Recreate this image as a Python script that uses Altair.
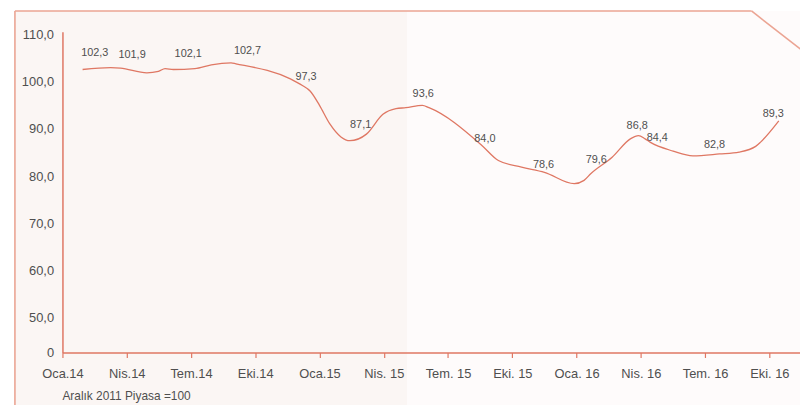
import json
import altair as alt
import pandas as pd

# ---- data -------------------------------------------------------------
# month index: 0 = Oca.14 (January 2014)
line_month = [0.94, 2.25, 2.71, 3.94, 4.48, 4.79, 5.18, 6.18, 6.95, 7.87, 8.10,
              10.64, 11.20, 11.57, 12.00, 12.49, 13.00, 13.42, 14.19,
              14.96, 15.57, 16.03, 16.80, 17.11, 19.58, 20.35, 21.43, 22.50,
              23.89, 24.35, 24.66, 25.66, 26.51, 26.89, 27.20, 27.43,
              28.51, 29.43, 30.67, 31.59, 32.36, 32.59, 33.44]
line_value = [102.6, 103.0, 102.9, 101.9, 102.2, 102.8, 102.6, 102.8, 103.6,
              104.0, 103.8, 100.6, 99.2, 98.0, 95.0, 91.0, 88.3, 87.5,
              88.9, 93.1, 94.3, 94.5, 95.0, 94.5, 86.5, 83.3, 81.9, 80.8,
              78.4, 79.1, 80.5, 84.0, 87.9, 88.6, 87.9, 87.2, 85.3, 84.3, 84.7,
              85.1, 86.3, 87.2, 91.7]

label_month = [1.51, 3.25, 5.87, 8.64, 11.37, 13.92, 16.84, 19.72, 22.46,
               24.92, 26.83, 27.77, 30.44, 33.18]
label_value = [102.3, 101.9, 102.1, 102.7, 97.3, 87.1, 93.6, 84.0, 78.6,
               79.6, 86.8, 84.4, 82.8, 89.3]

tick_labels = ["Oca.14", "Nis.14", "Tem.14", "Eki.14", "Oca.15", "Nis. 15",
               "Tem. 15", "Eki. 15", "Oca. 16", "Nis. 16", "Tem. 16", "Eki. 16"]
y_ticks = [42.6, 50, 60, 70, 80, 90, 100, 110]
note = "Aralık 2011 Piyasa =100"

# ---- styling ----------------------------------------------------------
FONT = "Liberation Sans Narrow, Liberation Sans, Arial, sans-serif"
RED = "#df7763"
FRAME = "#eba493"
TEXT = "#4f4f4f"

line_df = pd.DataFrame({"m": line_month, "v": line_value})
lab_df = pd.DataFrame({
    "m": label_month,
    "v": label_value,
    "t": [f"{v:.1f}".replace(".", ",") for v in label_value],
})
one = pd.DataFrame({"a": [0]})

x_scale = alt.Scale(domain=[0, 34.43], nice=False, zero=False)
y_scale = alt.Scale(domain=[42.6, 110.6], nice=False, zero=False)

x_expr = "%s[round(datum.value / 3)]" % json.dumps(tick_labels)
y_expr = "datum.value < 45 ? '0' : replace(format(datum.value, '.1f'), '.', ',')"

# backgrounds (decorative panel shading)
bg_left = alt.Chart(one).mark_rect(color="#fbf6f4").encode(
    x=alt.value(-48), x2=alt.value(348), y=alt.value(-21), y2=alt.value(400))
bg_right = alt.Chart(one).mark_rect(color="#fefbfb").encode(
    x=alt.value(348), x2=alt.value(745), y=alt.value(-21), y2=alt.value(400))

frame_left = alt.Chart(one).mark_rule(color=FRAME, strokeWidth=1.6).encode(
    x=alt.value(-48), y=alt.value(-21), y2=alt.value(400))
frame_top = alt.Chart(one).mark_rule(color=FRAME, strokeWidth=1.6).encode(
    x=alt.value(-48), x2=alt.value(696), y=alt.value(-21))
frame_diag = alt.Chart(one).mark_rule(color=FRAME, strokeWidth=1.6).encode(
    x=alt.value(696), x2=alt.value(746), y=alt.value(-21), y2=alt.value(18))

line = alt.Chart(line_df).mark_line(
    color=RED, strokeWidth=1.3, interpolate="monotone"
).encode(
    x=alt.X("m:Q", scale=x_scale, axis=alt.Axis(
        values=list(range(0, 34, 3)), labelExpr=x_expr, title=None,
        grid=False, domainColor=RED, domainWidth=1.5, tickColor=RED,
        tickSize=5, tickWidth=1.2, labelPadding=10, labelFontSize=13,
        labelFont=FONT, labelColor=TEXT, labelFlush=False, zindex=2)),
    y=alt.Y("v:Q", scale=y_scale, axis=alt.Axis(
        values=y_ticks, labelExpr=y_expr, title=None, grid=False,
        domainColor=RED, domainWidth=1.5, ticks=False, labelPadding=9,
        labelFontSize=13, labelFont=FONT, labelColor=TEXT,
        labelBaseline="middle", zindex=2)),
)

labels = alt.Chart(lab_df).mark_text(
    font=FONT, fontSize=11, color=TEXT, dy=-18, baseline="middle"
).encode(
    x=alt.X("m:Q", scale=x_scale),
    y=alt.Y("v:Q", scale=y_scale),
    text="t:N",
)

note_text = alt.Chart(pd.DataFrame({"t": [note]})).mark_text(
    font=FONT, fontSize=12, color=TEXT, align="left", baseline="middle"
).encode(x=alt.value(0), y=alt.value(368), text="t:N")

chart = alt.layer(
    bg_left, bg_right, frame_left, frame_top, frame_diag, line, labels, note_text
).properties(
    width=745, height=324,
    autosize=alt.AutoSizeParams(type="none"),
    padding={"left": 55, "top": 22, "right": 0, "bottom": 51},
    background="white",
).configure_view(stroke=None)

chart.save("out.html", embed_options={"renderer": "svg", "actions": False})
